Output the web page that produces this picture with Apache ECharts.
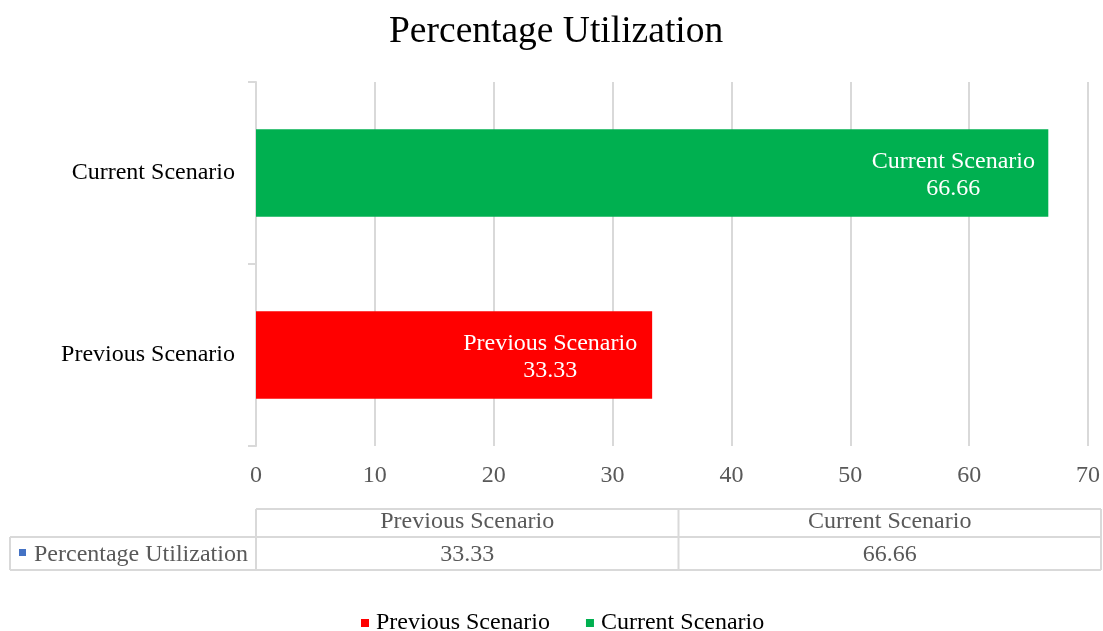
<!DOCTYPE html>
<html>
<head>
<meta charset="utf-8">
<script src="https://cdn.jsdelivr.net/npm/echarts@6/dist/echarts.min.js"></script>
<style>
  html, body { margin: 0; padding: 0; background: #fff; }
  #chart { width: 1103px; height: 631px; }
</style>
</head>
<body>
<div id="chart"></div>
<script>
const categories = ['Previous Scenario', 'Current Scenario']
const previousValues = [33.33, '-']
const currentValues = ['-', 66.66]
const tableSeriesName = 'Percentage Utilization'
const tableValues = [33.33, 66.66]
const xTicks = { min: 0, max: 70, interval: 10 }

const serif = '"Liberation Serif", "Times New Roman", serif'
const gridColor = '#d9d9d9'
const textGrey = '#595959'
const fs = 24

let chart = echarts.init(document.getElementById('chart'))

// data table under the plot (layout only, values come from the arrays)
const tLeft = 10
const tCol0 = 256
const tRight = 1101
const tMid = (tCol0 + tRight) / 2
const rowTop = 509
const rowMid = 537
const rowBot = 570
const lineStyle = { stroke: gridColor, lineWidth: 2 }

let graphics = [
  { type: 'line', shape: { x1: tCol0, y1: rowTop, x2: tRight, y2: rowTop }, style: lineStyle },
  { type: 'line', shape: { x1: tLeft, y1: rowMid, x2: tRight, y2: rowMid }, style: lineStyle },
  { type: 'line', shape: { x1: tLeft, y1: rowBot, x2: tRight, y2: rowBot }, style: lineStyle },
  { type: 'line', shape: { x1: tLeft, y1: rowMid, x2: tLeft, y2: rowBot }, style: lineStyle },
  { type: 'line', shape: { x1: tCol0, y1: rowTop, x2: tCol0, y2: rowBot }, style: lineStyle },
  { type: 'line', shape: { x1: tMid, y1: rowTop, x2: tMid, y2: rowBot }, style: lineStyle },
  { type: 'line', shape: { x1: tRight, y1: rowTop, x2: tRight, y2: rowBot }, style: lineStyle },
  { type: 'rect', shape: { x: 19, y: 549, width: 7, height: 7 }, style: { fill: '#4472c4' } },
  {
    type: 'text', x: 34, y: (rowMid + rowBot) / 2 + 1,
    style: { text: tableSeriesName, font: fs + 'px ' + serif, fill: textGrey, verticalAlign: 'middle' }
  }
]
const colCenters = [(tCol0 + tMid) / 2, (tMid + tRight) / 2]
for (let i = 0; i < categories.length; i++) {
  graphics.push({
    type: 'text', x: colCenters[i], y: (rowTop + rowMid) / 2 - 1,
    style: { text: categories[i], font: fs + 'px ' + serif, fill: textGrey, align: 'center', verticalAlign: 'middle' }
  })
  graphics.push({
    type: 'text', x: colCenters[i], y: (rowMid + rowBot) / 2 + 1,
    style: { text: String(tableValues[i]), font: fs + 'px ' + serif, fill: textGrey, align: 'center', verticalAlign: 'middle' }
  })
}

function barLabel (dist) {
  return {
    show: true,
    position: 'insideRight',
    align: 'center',
    distance: dist,
    formatter: '{a}\n{c}',
    color: '#fff',
    fontFamily: serif,
    fontSize: fs,
    lineHeight: 27,
    offset: [0, 2]
  }
}

let option = {
  textStyle: { fontFamily: serif },
  title: {
    text: 'Percentage Utilization',
    left: 384,
    top: 8,
    textStyle: { fontFamily: serif, fontSize: 37.5, fontWeight: 'normal', color: '#000' }
  },
  legend: {
    data: ['Previous Scenario', 'Current Scenario'],
    left: 356,
    top: 606,
    icon: 'rect',
    itemWidth: 8,
    itemHeight: 8,
    itemGap: 36,
    textStyle: { fontFamily: serif, fontSize: fs, color: '#000', padding: [0, 0, 0, 2] }
  },
  grid: { left: 256, right: 13, top: 82, bottom: 185 },
  xAxis: {
    type: 'value',
    min: xTicks.min,
    max: xTicks.max,
    interval: xTicks.interval,
    axisLine: { show: false },
    axisTick: { show: false },
    axisLabel: { color: textGrey, fontFamily: serif, fontSize: fs, margin: 18 },
    splitLine: { lineStyle: { color: gridColor, width: 2 } }
  },
  yAxis: {
    type: 'category',
    data: categories,
    axisLine: { lineStyle: { color: gridColor, width: 2 } },
    axisTick: { show: true, length: 8, lineStyle: { color: gridColor, width: 2 } },
    axisLabel: { color: '#000', fontFamily: serif, fontSize: fs, margin: 21 }
  },
  series: [
    {
      name: 'Previous Scenario',
      type: 'bar',
      stack: 'util',
      data: previousValues,
      barCategoryGap: '52%',
      itemStyle: { color: '#ff0000' },
      label: barLabel(102)
    },
    {
      name: 'Current Scenario',
      type: 'bar',
      stack: 'util',
      data: currentValues,
      barCategoryGap: '52%',
      itemStyle: { color: '#00b050' },
      label: barLabel(95)
    }
  ],
  graphic: graphics
}

chart.setOption(option)
</script>
</body>
</html>
